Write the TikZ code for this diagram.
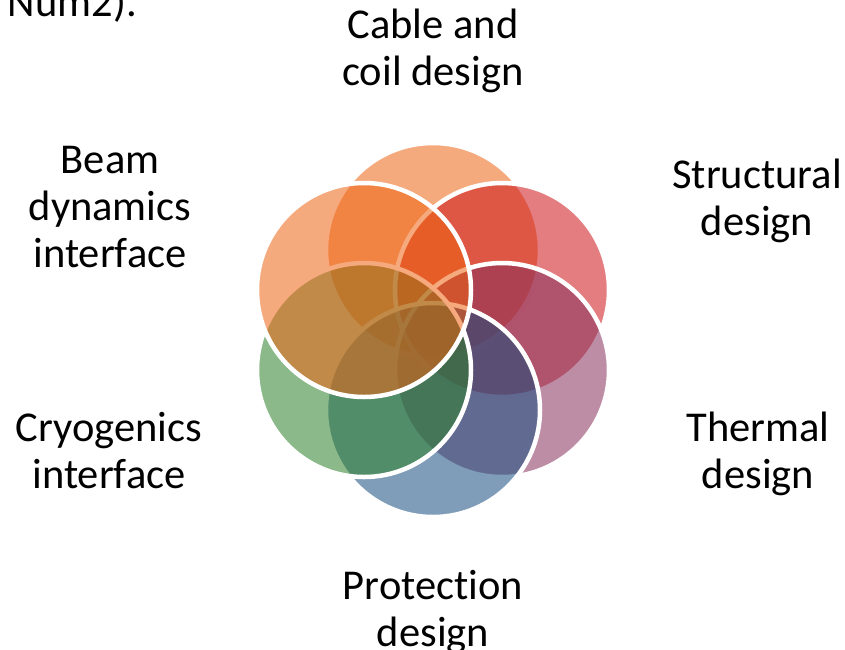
\documentclass[tikz,border=0pt]{standalone}
\usepackage{fontspec}
\setmainfont{Carlito}[Ligatures=NoCommon]
\definecolor{cableclr}{RGB}{237,100,19}
\definecolor{structclr}{RGB}{204,19,22}
\definecolor{thermclr}{RGB}{135,48,93}
\definecolor{protclr}{RGB}{22,77,126}
\definecolor{cryoclr}{RGB}{46,128,42}
\definecolor{beamclr}{RGB}{237,100,19}

\begin{document}
\begin{tikzpicture}[x=1pt,y=-1pt,
  petal/.style={fill=#1, fill opacity=0.55, draw=white, line width=4.5pt},
  areatext/.style={font=\fontsize{42.5}{47}\selectfont, align=center, inner sep=0pt, anchor=base}]
\useasboundingbox (0,0) rectangle (845,649);
% overlapping areas, drawn from the top clockwise
\draw[petal=cableclr] (433,250) circle (107pt);
\draw[petal=structclr] (502,290) circle (107pt);
\draw[petal=thermclr] (502,370) circle (107pt);
\draw[petal=protclr] (433,410) circle (107pt);
\draw[petal=cryoclr] (364,370) circle (107pt);
\draw[petal=beamclr] (364,290) circle (107pt);
% labels (anchored at the baseline of the last line)
\node[areatext] (cable) at (433,85) {Cable and\\coil design};
\node[areatext] (struct) at (757,235) {Structural\\design};
\node[areatext] (therm) at (758,488) {Thermal\\design};
\node[areatext] (prot) at (433,646) {Protection\\design};
\node[areatext] (cryo) at (109,488) {Cryogenics\\interface};
\node[areatext] (beam) at (110,267) {Beam\\dynamics\\interface};
\node[areatext, anchor=base east] (cut) at (137,16) {Num2).};
\end{tikzpicture}
\end{document}
